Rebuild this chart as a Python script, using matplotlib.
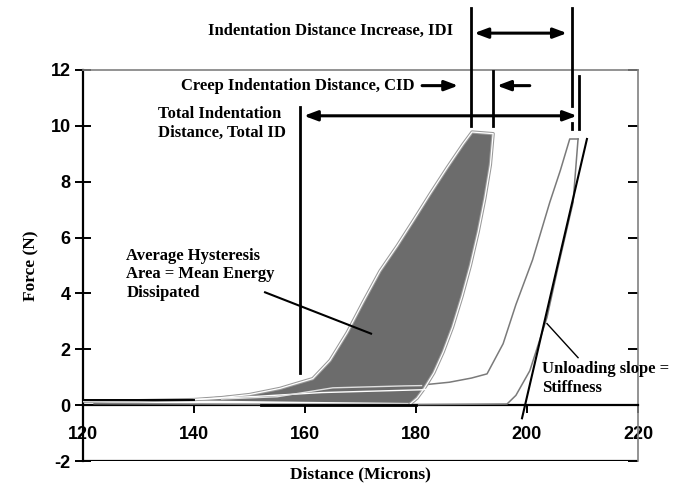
import matplotlib.pyplot as plt
from matplotlib.patches import Polygon

# first cycle (shaded hysteresis loop)
load1_x = [120, 130, 140, 145, 150, 155.5, 158, 161.4, 164.5, 167.6, 170.5, 173.5, 176.6,
           179.5, 182.5, 185.6, 188.5, 190.1, 193.9]
load1_y = [0.15, 0.16, 0.2, 0.27, 0.38, 0.6, 0.75, 0.95, 1.6, 2.6, 3.7, 4.8, 5.7,
           6.6, 7.55, 8.5, 9.35, 9.78, 9.72]
unload1_x = [193.9, 193.4, 192.4, 191.2, 189.8, 188.3, 186.6, 184.9, 183.2, 181.5, 180.2, 179.0]
unload1_y = [9.72, 8.6, 7.4, 6.2, 5.0, 3.9, 2.8, 1.9, 1.15, 0.6, 0.25, 0.05]
base1_x = [179.0, 160, 140]
base1_y = [0.08, 0.12, 0.17]

# last cycle (open loop)
load2_x = [120, 140, 150, 155.5, 165, 181, 186, 190, 192.8, 195.7, 198, 201, 204.1, 206, 207.7, 209.2]
load2_y = [0.12, 0.2, 0.38, 0.55, 0.62, 0.72, 0.82, 0.97, 1.12, 2.2, 3.6, 5.2, 7.26, 8.4, 9.53, 9.53]
unload2_x = [209.2, 208.3, 205.6, 203.6, 200.5, 198.0, 196.4, 180, 150, 122]
unload2_y = [9.53, 7.26, 4.95, 3.14, 1.23, 0.35, 0.04, 0.02, 0.03, 0.05]

# extra cycles hidden inside the band
mid_x = [140, 150, 163, 181, 184]
mid_y = [0.2, 0.3, 0.45, 0.55, 0.6]
mid2_x = [145, 155, 165, 178, 181]
mid2_y = [0.22, 0.3, 0.62, 0.69, 0.7]

# unloading slope (stiffness)
stiff_x = [199.1, 210.8]
stiff_y = [-0.47, 9.53]

# landmark distances
total_id_x = 159.1
idi_left_x = 189.9
cid_right_x = 193.9
idi_right_x = 208.1
end_x = 209.4

plt.rcParams['font.family'] = ['Liberation Serif', 'DejaVu Serif']
plt.rcParams['axes.unicode_minus'] = False

fig = plt.figure(figsize=(6.78, 4.90), dpi=100)
ax = fig.add_axes([83 / 678, 1 - 461 / 490, 555 / 678, 391 / 490])
ax.set_xlim(120, 220)
ax.set_ylim(-2, 12)

# open loop drawn first so the shaded patch hides its lower part
ax.plot(load2_x, load2_y, color="#7a7a7a", lw=1.1, zorder=1.5)
ax.plot(unload2_x, unload2_y, color="#7a7a7a", lw=1.1, zorder=3)

# shaded loop
poly_x = load1_x + unload1_x[1:] + base1_x
poly_y = load1_y + unload1_y[1:] + base1_y
ax.add_patch(Polygon(list(zip(poly_x, poly_y)), closed=True, facecolor="#6c6c6c",
                     edgecolor="none", zorder=2))
outline_x = load1_x + unload1_x[1:]
outline_y = load1_y + unload1_y[1:]
ax.plot(outline_x, outline_y, color="#9a9a9a", lw=2.4, zorder=3)
ax.plot(outline_x, outline_y, color="white", lw=0.9, zorder=4)

ax.plot(mid_x, mid_y, color="white", lw=1.0, zorder=4)
ax.plot(mid2_x, mid2_y, color="#e0e0e0", lw=1.0, zorder=4)

ax.plot([120, 140], [0.18, 0.18], color="black", lw=1.4, zorder=4)
ax.plot([152, 180], [0.0, 0.0], color="black", lw=2.0, zorder=4)

ax.plot(stiff_x, stiff_y, color="black", lw=1.5, zorder=5)

# axes styling
for s in ["left", "bottom"]:
    ax.spines[s].set_linewidth(1.6)
ax.spines["bottom"].set_position(("data", 0))
for s in ["top", "right"]:
    ax.spines[s].set_color("#808080")
    ax.spines[s].set_linewidth(1.2)
ax.axhline(-2, color="black", lw=1.6, zorder=1)

ax.set_xticks([120, 140, 160, 180, 200, 220])
ax.set_yticks([-2, 0, 2, 4, 6, 8, 10, 12])
ax.tick_params(axis="x", direction="out", length=6, width=1.4, pad=9)
ax.tick_params(axis="y", direction="inout", length=12, width=1.4, pad=3)
ax.tick_params(axis="y", which="major", right=True, labelright=False)
for t in ax.yaxis.get_major_ticks():
    t.tick2line.set_color("#808080")
    t.tick2line.set_markersize(7)
    t.tick2line.set_marker(0)
for lab in ax.get_xticklabels() + ax.get_yticklabels():
    lab.set_family("Liberation Sans")
    lab.set_fontweight("bold")
    lab.set_fontsize(13)

ax.set_xlabel("Distance (Microns)", fontsize=12.5, fontweight="bold", labelpad=17)
ax.set_ylabel("Force (N)", fontsize=12.5, fontweight="bold", labelpad=8)

# annotation lines and arrows
kw = dict(color="black", lw=2.0, clip_on=False, zorder=6)
ax.plot([total_id_x, total_id_x], [1.16, 10.69], **kw)
ax.plot([idi_left_x, idi_left_x], [10.0, 14.22], **kw)
ax.plot([idi_right_x, idi_right_x], [10.72, 14.22], **kw)
ax.plot([idi_right_x, idi_right_x], [9.9, 10.1], **kw)
ax.plot([cid_right_x, cid_right_x], [10.0, 11.95], **kw)
ax.plot([end_x, end_x], [9.89, 11.8], **kw)

akw = dict(arrowstyle="<|-|>,head_length=0.8,head_width=0.3", color="black", lw=2.2,
           shrinkA=0, shrinkB=0)
okw = dict(arrowstyle="-|>,head_length=0.8,head_width=0.3", color="black", lw=2.2,
           shrinkA=0, shrinkB=0)
ax.annotate("", xy=(207.2, 13.32), xytext=(190.5, 13.32), arrowprops=akw, annotation_clip=False)
ax.annotate("", xy=(209.0, 10.36), xytext=(159.8, 10.36), arrowprops=akw, annotation_clip=False)
ax.annotate("", xy=(187.6, 11.44), xytext=(181.1, 11.44), arrowprops=okw, annotation_clip=False)
ax.annotate("", xy=(194.6, 11.44), xytext=(200.5, 11.44), arrowprops=okw, annotation_clip=False)

tkw = dict(fontsize=12, fontweight="bold", clip_on=False, zorder=7)
ax.text(186.7, 13.4, "Indentation Distance Increase, IDI", ha="right", va="center", **tkw)
ax.text(179.8, 11.44, "Creep Indentation Distance, CID", ha="right", va="center", **tkw)
ax.text(133.5, 10.09, "Total Indentation\nDistance, Total ID", ha="left", va="center",
        linespacing=1.25, **tkw)
ax.text(127.8, 4.69, "Average Hysteresis\nArea = Mean Energy\nDissipated", ha="left", va="center",
        linespacing=1.2, **tkw)
ax.text(202.7, 0.97, "Unloading slope =\nStiffness", ha="left", va="center",
        linespacing=1.25, **tkw)

ax.plot([152.8, 171.9], [4.04, 2.56], color="black", lw=1.5, zorder=6)
ax.plot([209.2, 203.6], [1.70, 2.92], color="black", lw=1.0, zorder=6)

fig.savefig("out.png", dpi=100)
